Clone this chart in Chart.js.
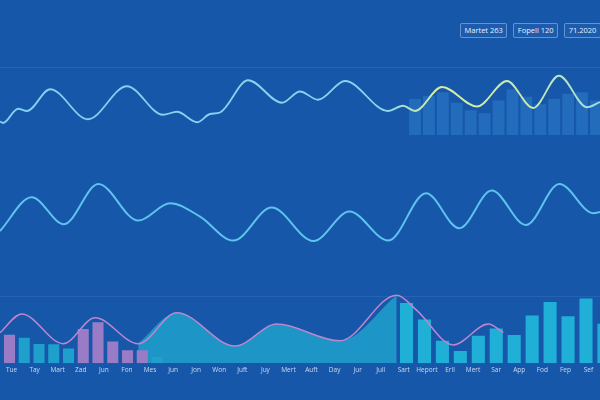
<!DOCTYPE html>
<html><head><meta charset="utf-8">
<script src="https://cdn.jsdelivr.net/npm/chart.js@4.4.0/dist/chart.umd.min.js"></script>
<style>
html,body{margin:0;padding:0;background:#1657aa;width:600px;height:400px;overflow:hidden;font-family:"Open Sans",sans-serif;}
#wrap{position:relative;width:600px;height:400px;background:#1657aa;overflow:hidden;}
canvas{position:absolute;left:0;}
#badges{position:absolute;top:23px;left:460px;display:flex;gap:6px;white-space:nowrap;}
.badge{height:15px;padding:0 3.5px;border:1px solid rgba(190,215,255,0.45);border-radius:2px;color:#e8f1ff;font-size:7.5px;line-height:13px;box-sizing:border-box;background:rgba(255,255,255,0.03);}
.rule{position:absolute;left:0;width:600px;height:1px;background:rgba(255,255,255,0.07);}
</style></head>
<body><div id="wrap">
<div class="rule" style="top:67px"></div>
<div class="rule" style="top:296px"></div>
<div id="badges"></div>
<canvas id="c1" width="600" height="75" style="top:60px"></canvas>
<canvas id="c2" width="600" height="100" style="top:160px"></canvas>
<canvas id="c3" width="600" height="115" style="top:285px"></canvas>
</div>
<script>
// ---- data ----
const labels = ['Tue','Tay','Mart','Zad','Jun','Fon','Mes','Jun','Jon','Won','Juft','Juy','Mert','Auft','Day','Jur','Jull','Sart','Heport','Erll','Mert','Sar','App','Fod','Fep','Sef'];
const badgeTexts = ['Martet 263','Fopell 120','71.2020'];

// panel 1 (top)
const topLineX = [-0.5,-0.37,0.28,0.67,1.67,3.31,5.0,6.56,7.17,8.04,8.6,9.03,10.25,11.72,12.5,13.28,14.45,16.31,16.96,17.48,18.65,20.17,21.47,22.6,23.72,24.94,25.5];
const topLineY = [18,16,35,32,61,21,65,27,31,17,28,30,73,43,58,47,72,32,39,32,64,38,72,36,79,37,44];
const topBars = [48,52,57,43,33,29,46,61,51,41,48,55,57,46];

// panel 2 (middle)
const midLineX = [-0.5,0.87,2.27,3.76,5.49,6.87,8.17,9.61,11.27,13.08,14.64,16.33,17.96,19.4,20.81,22.29,23.74,25.21,25.5];
const midLineY = [14.5,31.4,17.9,38,19.7,28.4,21.7,9.7,26.2,9.5,24.2,9.7,33.4,15.9,34.7,17.5,38,23.4,24];

// panel 3 (bottom)
const lowLineX = [-0.5,0.44,2.24,3.62,5.49,7.16,9.68,11.49,14.23,16.69,17.56,19.14,20.66,21.31];
const lowLineY = [39,63,25,58,25,64.5,22,50,28.6,87,67.5,23.4,50,39];
const leftBars = [36.4,32.5,24.7,24.3,18.8,43.8,52.3,27.7,16.5,16.5,7.8];
const leftBarGroup = [1,0,0,0,0,1,1,1,1,1,0];
const rightBars = [77,56,28.6,15.6,35,44.5,36,61,78.3,60,82.7,50.3];

// ---- build ----
const bd = document.getElementById('badges');
badgeTexts.forEach(t => { const d = document.createElement('div'); d.className = 'badge'; d.textContent = t; bd.appendChild(d); });

const pts = (xs, ys) => xs.map((x, i) => ({x, y: ys[i]}));
const idx = (vals) => vals.map((y, i) => ({x: i, y}));
const indexTicks = (vals) => (s => { s.ticks = vals.map((_, i) => ({value: i})); });
const base = {
  responsive: false, animation: false, events: [],
  plugins: {legend: {display: false}, tooltip: {enabled: false}},
  layout: {padding: 0}
};
const lineStyle = {pointRadius: 0, borderWidth: 1.8, tension: 0.4, cubicInterpolationMode: 'monotone', fill: false};

function topGrad(context) {
  const chart = context.chart, area = chart.chartArea;
  if (!area) return '#86d4f0';
  const g = chart.ctx.createLinearGradient(area.left, 0, area.right, 0);
  g.addColorStop(0, '#80d0ef');
  g.addColorStop(0.64, '#88d6ef');
  g.addColorStop(0.72, '#d4eea2');
  g.addColorStop(0.88, '#c8eaa8');
  g.addColorStop(1, '#a0dcdc');
  return g;
}

new Chart(document.getElementById('c1'), {
  type: 'line',
  data: {datasets: [
    Object.assign({data: pts(topLineX, topLineY), borderColor: topGrad, xAxisID: 'x', yAxisID: 'y', order: 0}, lineStyle),
    {type: 'bar', data: idx(topBars), backgroundColor: 'rgba(70,165,235,0.27)', xAxisID: 'xb', yAxisID: 'y', order: 1, grouped: false, barPercentage: 0.85, categoryPercentage: 1}
  ]},
  options: Object.assign({}, base, {scales: {
    x: {type: 'linear', display: false, min: -0.5, max: 25.5, offset: false},
    xb: {type: 'linear', display: false, min: -29.81, max: 13.29, offset: false, afterBuildTicks: indexTicks(topBars)},
    y: {type: 'linear', display: false, min: 0, max: 100}
  }})
});

new Chart(document.getElementById('c2'), {
  type: 'line',
  data: {datasets: [
    Object.assign({data: pts(midLineX, midLineY), borderColor: '#5ec3ee', xAxisID: 'x', yAxisID: 'y'}, lineStyle, {borderWidth: 2})
  ]},
  options: Object.assign({}, base, {scales: {
    x: {type: 'linear', display: false, min: -0.5, max: 25.5, offset: false},
    y: {type: 'linear', display: false, min: 0, max: 50}
  }})
});

new Chart(document.getElementById('c3'), {
  type: 'line',
  data: {datasets: [
    Object.assign({data: pts(lowLineX, lowLineY), borderColor: '#bd86cc', xAxisID: 'x', yAxisID: 'y', order: 0}, lineStyle, {borderWidth: 1.5}),
    {type: 'bar', data: idx(leftBars), backgroundColor: leftBarGroup.map(g => g ? '#9a7cc6' : '#1f9fcc'), xAxisID: 'xl', yAxisID: 'y', order: 1, grouped: false, barPercentage: 0.75, categoryPercentage: 1},
    {type: 'bar', data: idx(rightBars), backgroundColor: '#20afd7', xAxisID: 'xr', yAxisID: 'y', order: 1, grouped: false, barPercentage: 0.73, categoryPercentage: 1},
    Object.assign({data: pts(lowLineX.slice(4, 10), lowLineY.slice(4, 10)), borderWidth: 0, borderColor: 'rgba(0,0,0,0)', backgroundColor: 'rgba(30,160,205,0.85)', xAxisID: 'x', yAxisID: 'y', order: 2}, {pointRadius: 0, tension: 0.4, cubicInterpolationMode: 'monotone', fill: 'origin'})
  ]},
  options: Object.assign({}, base, {
    layout: {padding: {bottom: 23}},
    scales: {
      x: {type: 'linear', min: -0.5, max: 25.5, offset: false,
          afterBuildTicks: s => { s.ticks = labels.map((_, i) => ({value: i})); },
          ticks: {autoSkip: false, maxRotation: 0, padding: 3, color: 'rgba(225,236,255,0.85)', font: {size: 6.5, family: 'Open Sans'}, callback: v => labels[v]},
          grid: {display: false, drawTicks: false, tickLength: 0}, border: {display: false}},
      xl: {type: 'linear', display: false, min: -0.644, max: 40.03, offset: false, afterBuildTicks: indexTicks(leftBars)},
      xr: {type: 'linear', display: false, min: -22.65, max: 10.78, offset: false, afterBuildTicks: indexTicks(rightBars)},
      y: {type: 'linear', display: false, min: 0, max: 100}
    }
  })
});
</script>
</body></html>
